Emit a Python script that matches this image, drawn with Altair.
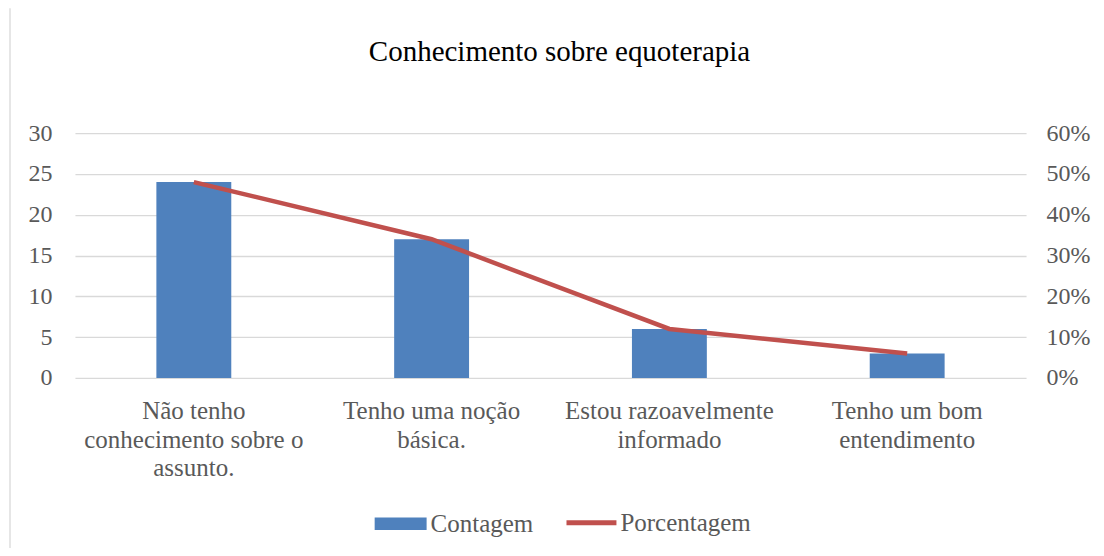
import altair as alt
import pandas as pd

categories = [
    "Não tenho conhecimento sobre o assunto.",
    "Tenho uma noção básica.",
    "Estou razoavelmente informado",
    "Tenho um bom entendimento",
]
label_lines = [
    ["Não tenho", "conhecimento sobre o", "assunto."],
    ["Tenho uma noção", "básica."],
    ["Estou razoavelmente", "informado"],
    ["Tenho um bom", "entendimento"],
]
contagem = [24, 17, 6, 3]
porcentagem = [0.48, 0.34, 0.12, 0.06]

df = pd.DataFrame({
    "cat": categories,
    "Contagem": contagem,
    "Porcentagem": porcentagem,
    "s1": ["Contagem"] * 4,
    "s2": ["Porcentagem"] * 4,
})

FONT = "Liberation Serif"
GRAY = "#595959"
BLUE = "#4F81BD"
RED = "#C0504D"

# label expression for multi-line x labels
expr = ""
for c, lines in zip(categories, label_lines):
    arr = "[" + ",".join("'" + l + "'" for l in lines) + "]"
    expr += f"datum.label == '{c}' ? {arr} : "
expr += "datum.label"

x_enc = alt.X(
    "cat:N",
    sort=categories,
    scale=alt.Scale(paddingInner=0.685, paddingOuter=0.3425),
    axis=alt.Axis(
        title=None, labelAngle=0, labelExpr=expr, labelFont=FONT, labelFontSize=25,
        labelColor=GRAY, labelLineHeight=28.5, labelPadding=21, ticks=False, domain=False,
        labelBaseline="top", labelLimit=400,
    ),
)

bars = alt.Chart(df).mark_bar(color=BLUE).encode(
    x=x_enc,
    y=alt.Y(
        "Contagem:Q",
        scale=alt.Scale(domain=[0, 30]),
        axis=alt.Axis(
            title=None, values=[0, 5, 10, 15, 20, 25, 30], labelFont=FONT, labelFontSize=24,
            labelColor=GRAY, labelPadding=23, ticks=False, domain=False, grid=True,
            gridColor="#D9D9D9", gridWidth=1.3,
        ),
    ),
    color=alt.Color(
        "s1:N",
        scale=alt.Scale(domain=["Contagem"], range=[BLUE]),
        legend=alt.Legend(
            title=None, orient="none", legendX=300, legendY=365, padding=0,
            symbolType="M-1,-0.24H1V0.24H-1Z", symbolSize=2704, symbolStrokeWidth=0,
            labelFont=FONT, labelFontSize=25, labelColor=GRAY, labelOffset=4,
        ),
    ),
)

line = alt.Chart(df).mark_line(color=RED, strokeWidth=4.5).encode(
    x=alt.X("cat:N", sort=categories),
    y=alt.Y(
        "Porcentagem:Q",
        scale=alt.Scale(domain=[0, 0.6]),
        axis=alt.Axis(
            title=None, orient="right", values=[0, 0.1, 0.2, 0.3, 0.4, 0.5, 0.6], format=".0%",
            labelFont=FONT, labelFontSize=24, labelColor=GRAY, labelPadding=20,
            ticks=False, domain=False, grid=False,
        ),
    ),
    stroke=alt.Stroke(
        "s2:N",
        scale=alt.Scale(domain=["Porcentagem"], range=[RED]),
        legend=alt.Legend(
            title=None, orient="none", legendX=492, legendY=365, padding=0,
            symbolType="M-1,-0.1H1V0.1H-1Z", symbolSize=2500, symbolStrokeWidth=0,
            symbolFillColor=RED,
            labelFont=FONT, labelFontSize=25, labelColor=GRAY, labelOffset=4,
        ),
    ),
)

# decorative chart-frame edge on the left, as in the reference
frame = alt.Chart(alt.Data(values=[{}])).mark_rule(color="#D9D9D9", strokeWidth=1.3).encode(
    x=alt.value(-65), y=alt.value(-125), y2=alt.value(430)
)

chart = alt.layer(frame, bars, line).resolve_scale(y="independent").properties(
    width=952,
    height=245,
    padding={"left": 67, "top": 125, "right": 70, "bottom": 170},
    autosize=alt.AutoSizeParams(type="none"),
    title=alt.TitleParams(
        "Conhecimento sobre equoterapia", font=FONT, fontSize=29, fontWeight="normal",
        color="#000000", anchor="middle", dx=9, offset=-59,
    ),
).configure(background="white", view=alt.ViewConfig(strokeWidth=0, stroke="transparent"))

chart.save("out.html", embed_options={"renderer": "svg", "actions": False})
